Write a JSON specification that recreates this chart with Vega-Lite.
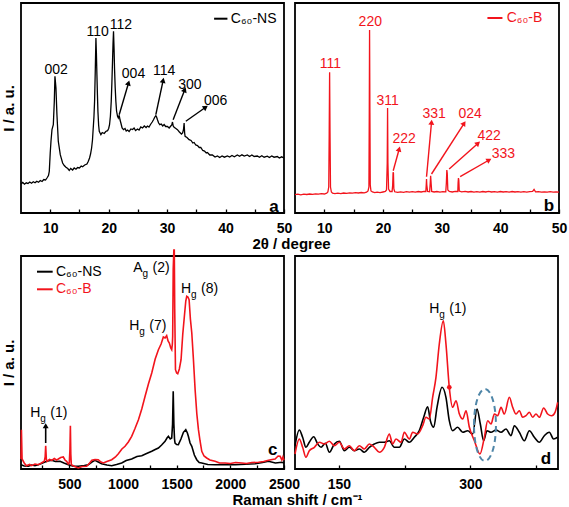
{
  "$schema": "https://vega.github.io/schema/vega-lite/v6.json",
  "background": "white",
  "padding": {"left": 0, "top": 2, "right": 0, "bottom": 0},
  "config": {
    "font": "Liberation Sans",
    "view": {"stroke": "black", "strokeWidth": 1.8},
    "axis": {"grid": false, "domain": false, "labelFont": "Liberation Sans", "labelFontSize": 14, "labelFontWeight": "bold", "labelColor": "black", "titleFont": "Liberation Sans", "titleFontSize": 15, "titleFontWeight": "bold", "titleColor": "black", "tickColor": "black", "tickWidth": 1.3},
    "axisX": {"tickSize": -4, "labelPadding": 12, "labelFlush": false, "labelOverlap": false}
  },
  "datasets": {
    "xa": [
      {"x":5.0,"y":29},{"x":5.3,"y":30.5},{"x":5.6,"y":28.8},{"x":5.9,"y":30.2},{"x":6.2,"y":29.5},{"x":6.5,"y":31},{"x":6.8,"y":29.8},{"x":7.1,"y":31.2},{"x":7.4,"y":30.2},{"x":7.7,"y":31.8},{"x":8.0,"y":30.8},{"x":8.3,"y":32.5},{"x":8.6,"y":31.5},{"x":8.9,"y":33.5},{"x":9.2,"y":33},{"x":9.5,"y":35.5},{"x":9.7,"y":37.5},{"x":9.84,"y":41.7},{"x":10.0,"y":60},{"x":10.13,"y":71.7},{"x":10.3,"y":83.3},{"x":10.53,"y":88.3},{"x":10.7,"y":111.7},{"x":10.81,"y":136.7},{"x":10.98,"y":125},{"x":11.15,"y":98.3},{"x":11.38,"y":71.7},{"x":11.72,"y":58.3},{"x":12.12,"y":50},{"x":12.4,"y":47.5},{"x":12.69,"y":45.7},{"x":13.0,"y":44.5},{"x":13.26,"y":42.5},{"x":13.5,"y":44.5},{"x":13.83,"y":43},{"x":14.1,"y":45},{"x":14.4,"y":43.8},{"x":14.68,"y":45.5},{"x":15.0,"y":45},{"x":15.3,"y":47},{"x":15.54,"y":46.2},{"x":15.9,"y":48},{"x":16.28,"y":49},{"x":16.5,"y":51.5},{"x":16.73,"y":55},{"x":16.9,"y":59},{"x":17.08,"y":65},{"x":17.23,"y":73},{"x":17.36,"y":85},{"x":17.48,"y":96},{"x":17.59,"y":111.7},{"x":17.7,"y":140},{"x":17.82,"y":175},{"x":17.9,"y":160},{"x":17.99,"y":138.3},{"x":18.08,"y":118},{"x":18.16,"y":101.7},{"x":18.28,"y":88},{"x":18.39,"y":81.7},{"x":18.67,"y":78.3},{"x":18.9,"y":80.5},{"x":19.24,"y":79.5},{"x":19.5,"y":81.5},{"x":19.81,"y":82.3},{"x":20.0,"y":84.5},{"x":20.15,"y":88.3},{"x":20.3,"y":97},{"x":20.44,"y":111.7},{"x":20.55,"y":130},{"x":20.66,"y":151.7},{"x":20.75,"y":170},{"x":20.83,"y":181.7},{"x":20.92,"y":165},{"x":21.0,"y":145},{"x":21.12,"y":125},{"x":21.23,"y":111.7},{"x":21.35,"y":102},{"x":21.52,"y":96.7},{"x":21.65,"y":95},{"x":21.8,"y":97.7},{"x":21.95,"y":93},{"x":22.09,"y":90},{"x":22.3,"y":85},{"x":22.54,"y":83.3},{"x":22.8,"y":84.5},{"x":23.0,"y":82},{"x":23.23,"y":83},{"x":23.5,"y":81.5},{"x":23.8,"y":84},{"x":24.08,"y":83.5},{"x":24.35,"y":85},{"x":24.6,"y":82.5},{"x":24.94,"y":84},{"x":25.2,"y":83},{"x":25.5,"y":86},{"x":25.79,"y":85},{"x":26.1,"y":87},{"x":26.4,"y":85.5},{"x":26.64,"y":87},{"x":26.9,"y":86},{"x":27.21,"y":89},{"x":27.45,"y":91},{"x":27.67,"y":93.3},{"x":27.9,"y":96},{"x":28.07,"y":97.3},{"x":28.2,"y":96},{"x":28.35,"y":93.3},{"x":28.55,"y":90},{"x":28.75,"y":88.3},{"x":29.0,"y":89},{"x":29.25,"y":87},{"x":29.49,"y":88.5},{"x":29.75,"y":86.5},{"x":30.06,"y":86.5},{"x":30.35,"y":85},{"x":30.63,"y":87},{"x":30.8,"y":88},{"x":30.92,"y":91},{"x":31.05,"y":87},{"x":31.2,"y":85.7},{"x":31.5,"y":84.5},{"x":31.77,"y":83.3},{"x":32.1,"y":81},{"x":32.46,"y":79},{"x":32.65,"y":80},{"x":32.8,"y":83.3},{"x":32.91,"y":90},{"x":33.0,"y":80},{"x":33.08,"y":76.7},{"x":33.4,"y":75.5},{"x":33.76,"y":73.3},{"x":34.1,"y":72.5},{"x":34.4,"y":70},{"x":34.62,"y":70.5},{"x":34.9,"y":68},{"x":35.2,"y":67.5},{"x":35.5,"y":65.5},{"x":35.76,"y":65.5},{"x":36.1,"y":62.5},{"x":36.4,"y":62},{"x":36.7,"y":60},{"x":36.9,"y":60.5},{"x":37.3,"y":58},{"x":37.75,"y":58},{"x":38.2,"y":56},{"x":38.61,"y":57},{"x":39.0,"y":55.5},{"x":39.4,"y":57},{"x":39.8,"y":55.8},{"x":40.32,"y":57},{"x":40.7,"y":56},{"x":41.1,"y":57.5},{"x":41.5,"y":56.2},{"x":42.02,"y":58},{"x":42.4,"y":56.8},{"x":42.8,"y":58.2},{"x":43.2,"y":57},{"x":43.73,"y":58},{"x":44.1,"y":56.5},{"x":44.5,"y":58},{"x":44.9,"y":56.5},{"x":45.44,"y":57},{"x":45.8,"y":55.8},{"x":46.2,"y":57.2},{"x":46.6,"y":55.8},{"x":47.15,"y":56.8},{"x":47.5,"y":55.5},{"x":47.9,"y":57},{"x":48.3,"y":55.8},{"x":48.86,"y":56.5},{"x":49.2,"y":55},{"x":49.6,"y":56.2},{"x":50.0,"y":55}
    ],
    "xb": [
      {"x":5.0,"y":18.3},{"x":5.5,"y":18.8},{"x":6.0,"y":18.2},{"x":6.5,"y":18.9},{"x":7.0,"y":18.5},{"x":7.5,"y":19},{"x":8.0,"y":18.6},{"x":8.5,"y":19.2},{"x":9.0,"y":18.8},{"x":9.5,"y":19.3},{"x":10.0,"y":19.0},{"x":10.4,"y":19.8},{"x":10.6,"y":21},{"x":10.75,"y":26},{"x":10.83,"y":80},{"x":10.9,"y":140.7},{"x":10.97,"y":80},{"x":11.05,"y":26},{"x":11.2,"y":21},{"x":11.4,"y":19.8},{"x":11.8,"y":19.4},{"x":12.3,"y":19.8},{"x":12.8,"y":19.4},{"x":13.3,"y":20},{"x":13.8,"y":19.6},{"x":14.3,"y":20.2},{"x":14.8,"y":19.8},{"x":15.3,"y":20.3},{"x":15.8,"y":20},{"x":16.3,"y":20.5},{"x":16.8,"y":20.2},{"x":17.2,"y":20.8},{"x":17.45,"y":22},{"x":17.6,"y":26},{"x":17.66,"y":100},{"x":17.71,"y":183},{"x":17.77,"y":100},{"x":17.83,"y":28},{"x":17.95,"y":22},{"x":18.2,"y":21},{"x":18.6,"y":20.4},{"x":19.0,"y":20.8},{"x":19.5,"y":20.4},{"x":20.0,"y":21},{"x":20.4,"y":21.5},{"x":20.6,"y":23},{"x":20.72,"y":50},{"x":20.78,"y":105},{"x":20.84,"y":50},{"x":20.95,"y":24},{"x":21.2,"y":21.5},{"x":21.55,"y":21.5},{"x":21.65,"y":28},{"x":21.72,"y":40.7},{"x":21.78,"y":40},{"x":21.85,"y":24},{"x":22.0,"y":21.2},{"x":22.5,"y":20.6},{"x":23.0,"y":21.2},{"x":23.5,"y":20.7},{"x":24.0,"y":21.3},{"x":24.5,"y":20.8},{"x":25.0,"y":21.4},{"x":25.5,"y":20.9},{"x":26.0,"y":21.5},{"x":26.5,"y":21},{"x":27.0,"y":21.6},{"x":27.3,"y":21.5},{"x":27.37,"y":28},{"x":27.42,"y":34},{"x":27.47,"y":28},{"x":27.6,"y":21.5},{"x":27.95,"y":21.2},{"x":28.05,"y":30},{"x":28.12,"y":37.3},{"x":28.2,"y":30},{"x":28.3,"y":21.6},{"x":28.7,"y":21},{"x":29.2,"y":21.5},{"x":29.7,"y":20.9},{"x":30.2,"y":21.4},{"x":30.7,"y":21.2},{"x":30.8,"y":30},{"x":30.88,"y":43},{"x":30.95,"y":40},{"x":31.05,"y":23},{"x":31.3,"y":21.5},{"x":31.8,"y":21},{"x":32.3,"y":21.6},{"x":32.75,"y":21.5},{"x":32.8,"y":30},{"x":32.86,"y":35},{"x":32.92,"y":33},{"x":33.0,"y":22},{"x":33.4,"y":21.2},{"x":34.0,"y":21.7},{"x":34.5,"y":21},{"x":35.0,"y":21.5},{"x":35.5,"y":20.8},{"x":36.0,"y":21.4},{"x":36.5,"y":20.9},{"x":37.0,"y":21.5},{"x":37.5,"y":21},{"x":38.0,"y":21.6},{"x":38.5,"y":21},{"x":39.0,"y":21.4},{"x":39.5,"y":20.9},{"x":40.0,"y":21.5},{"x":40.5,"y":21},{"x":41.0,"y":21.4},{"x":41.5,"y":20.9},{"x":42.0,"y":21.5},{"x":42.5,"y":21},{"x":43.0,"y":21.4},{"x":43.5,"y":20.8},{"x":44.0,"y":21.3},{"x":44.5,"y":20.9},{"x":45.0,"y":21.3},{"x":45.5,"y":21.6},{"x":45.75,"y":23.5},{"x":46.0,"y":21.2},{"x":46.5,"y":21.3},{"x":47.0,"y":20.8},{"x":47.5,"y":21.2},{"x":48.0,"y":20.8},{"x":48.5,"y":21.3},{"x":49.0,"y":20.9},{"x":49.5,"y":21.2},{"x":50.0,"y":20.8}
    ],
    "ta": [
      {"x":11.0,"y":143,"t":"002"},{"x":18.1,"y":181,"t":"110"},{"x":22.1,"y":188,"t":"112"},{"x":24.25,"y":139,"t":"004"},{"x":29.5,"y":141.7,"t":"114"},{"x":33.9,"y":128.3,"t":"300"},{"x":38.3,"y":112.3,"t":"006"}
    ],
    "tb": [
      {"x":11.02,"y":149,"t":"111"},{"x":17.83,"y":190.7,"t":"220"},{"x":20.78,"y":112.3,"t":"311"},{"x":23.61,"y":74,"t":"222"},{"x":28.72,"y":99,"t":"331"},{"x":34.85,"y":99,"t":"024"},{"x":38.09,"y":77.3,"t":"422"},{"x":40.53,"y":59,"t":"333"}
    ],
    "aa": [
      {"x":23.4,"y":130,"x2":21.8,"y2":98.3,"ang":16.4},
      {"x":29.32,"y":132.7,"x2":28.07,"y2":98.3,"ang":12},
      {"x":33.02,"y":123.3,"x2":31.03,"y2":93.3,"ang":21},
      {"x":36.6,"y":105.7,"x2":33.2,"y2":91.7,"ang":55}
    ],
    "ab": [
      {"x":22.76,"y":64,"x2":21.74,"y2":42.3,"ang":15.5},
      {"x":28.27,"y":90.7,"x2":27.42,"y2":36.3,"ang":5.3},
      {"x":33.83,"y":89.7,"x2":28.27,"y2":39,"ang":32.8},
      {"x":36.21,"y":69.7,"x2":31.28,"y2":44,"ang":48.5},
      {"x":38.09,"y":53,"x2":33.15,"y2":36.3,"ang":60}
    ],
    "lga": [{"x":38.04,"x2":40.32,"y":194.3,"tx":40.9,"t":"C₆₀-NS"}],
    "lgb": [{"x":37.8,"x2":40.36,"y":195,"tx":41.09,"t":"C₆₀-B"}],
    "pa": [{"x":48.3,"y":6,"t":"a"}],
    "pb": [{"x":48.3,"y":7.3,"t":"b"}],
    "cns": [
      {"x":50,"y":4.3},{"x":80,"y":3},{"x":118,"y":2.7},{"x":150,"y":4},{"x":180,"y":3.3},{"x":211,"y":4.3},{"x":240,"y":5.5},{"x":273,"y":7},{"x":300,"y":8},{"x":336,"y":8.7},{"x":370,"y":7.5},{"x":413,"y":7.7},{"x":450,"y":6},{"x":491,"y":4.3},{"x":530,"y":3},{"x":584,"y":2.7},{"x":640,"y":3.5},{"x":677,"y":4.3},{"x":710,"y":7},{"x":739,"y":8.7},{"x":770,"y":7},{"x":801,"y":5.3},{"x":850,"y":4},{"x":895,"y":3.3},{"x":940,"y":4.5},{"x":988,"y":6},{"x":1030,"y":8.5},{"x":1081,"y":10},{"x":1130,"y":12.5},{"x":1175,"y":13.3},{"x":1220,"y":15.5},{"x":1268,"y":17.7},{"x":1300,"y":19.5},{"x":1330,"y":21},{"x":1360,"y":24},{"x":1392,"y":27.7},{"x":1410,"y":31},{"x":1423,"y":32.7},{"x":1440,"y":30},{"x":1454,"y":31},{"x":1462,"y":45},{"x":1468,"y":77.7},{"x":1474,"y":45},{"x":1480,"y":30},{"x":1485,"y":26},{"x":1500,"y":24.5},{"x":1516,"y":24.3},{"x":1540,"y":30},{"x":1563,"y":36.7},{"x":1585,"y":39.3},{"x":1600,"y":36},{"x":1609,"y":32.7},{"x":1625,"y":26},{"x":1641,"y":22.7},{"x":1665,"y":14},{"x":1687,"y":9.3},{"x":1710,"y":6.5},{"x":1734,"y":6},{"x":1790,"y":4.5},{"x":1858,"y":4.3},{"x":1950,"y":4.5},{"x":2045,"y":4.3},{"x":2140,"y":4.8},{"x":2231,"y":5.3},{"x":2300,"y":6.5},{"x":2355,"y":7.7},{"x":2420,"y":6},{"x":2479,"y":6.7},{"x":2500,"y":6}
    ],
    "cb": [
      {"x":50,"y":10},{"x":54,"y":39.3},{"x":60,"y":10},{"x":80,"y":6},{"x":100,"y":3.3},{"x":130,"y":4.5},{"x":149,"y":3.3},{"x":180,"y":5},{"x":211,"y":4.3},{"x":240,"y":6},{"x":267,"y":7.7},{"x":275,"y":12},{"x":280,"y":23.3},{"x":286,"y":10},{"x":292,"y":7.7},{"x":315,"y":9.5},{"x":336,"y":8.7},{"x":360,"y":10.5},{"x":380,"y":9},{"x":398,"y":10},{"x":420,"y":11.5},{"x":444,"y":12},{"x":460,"y":9},{"x":475,"y":7.7},{"x":490,"y":5},{"x":500,"y":6},{"x":506,"y":20},{"x":510,"y":43.3},{"x":514,"y":15},{"x":519,"y":4.3},{"x":550,"y":2.5},{"x":584,"y":1},{"x":620,"y":2.5},{"x":662,"y":2.7},{"x":690,"y":6},{"x":710,"y":8.7},{"x":740,"y":9.5},{"x":770,"y":9.3},{"x":795,"y":7},{"x":817,"y":6},{"x":850,"y":7.5},{"x":895,"y":9.3},{"x":930,"y":12},{"x":957,"y":15.3},{"x":990,"y":20},{"x":1019,"y":22.7},{"x":1050,"y":27},{"x":1081,"y":32.7},{"x":1110,"y":40},{"x":1144,"y":49.3},{"x":1175,"y":60},{"x":1206,"y":72.7},{"x":1237,"y":85},{"x":1268,"y":96},{"x":1300,"y":110},{"x":1330,"y":119.3},{"x":1355,"y":125},{"x":1376,"y":132},{"x":1392,"y":131},{"x":1407,"y":133.3},{"x":1420,"y":128},{"x":1432,"y":126},{"x":1445,"y":121},{"x":1454,"y":119.3},{"x":1460,"y":125},{"x":1463,"y":132.7},{"x":1468,"y":200},{"x":1474,"y":219},{"x":1478,"y":219},{"x":1482,"y":160},{"x":1489,"y":99.3},{"x":1500,"y":96},{"x":1510,"y":95.3},{"x":1525,"y":100},{"x":1541,"y":109.3},{"x":1557,"y":135},{"x":1572,"y":152.7},{"x":1585,"y":168},{"x":1594,"y":172.7},{"x":1605,"y":172},{"x":1616,"y":169.3},{"x":1628,"y":150},{"x":1641,"y":136},{"x":1656,"y":110},{"x":1672,"y":79.3},{"x":1688,"y":55},{"x":1703,"y":39.3},{"x":1718,"y":28},{"x":1734,"y":17.7},{"x":1755,"y":13},{"x":1780,"y":11},{"x":1810,"y":9},{"x":1858,"y":7.7},{"x":1900,"y":6},{"x":1951,"y":6},{"x":2000,"y":5.5},{"x":2050,"y":6.5},{"x":2107,"y":6},{"x":2150,"y":5.5},{"x":2200,"y":6.5},{"x":2262,"y":6.7},{"x":2310,"y":7.5},{"x":2355,"y":8.7},{"x":2390,"y":9.5},{"x":2417,"y":10},{"x":2445,"y":13},{"x":2464,"y":12.7},{"x":2480,"y":9},{"x":2490,"y":12},{"x":2500,"y":8.7}
    ],
    "tc": [
      {"x":1183,"y":201,"m":"A","s":"g","r":"(2)"},
      {"x":1634,"y":180,"m":"H","s":"g","r":"(8)"},
      {"x":1152,"y":143,"m":"H","s":"g","r":"(7)"},
      {"x":230,"y":56,"m":"H","s":"g","r":"(1)"}
    ],
    "ac": [{"x":280,"y":43.3,"x2":280,"y2":26,"ang":0}],
    "lgc": [
      {"x":199,"x2":345,"y":197.3,"tx":376,"t":"C₆₀-NS","c":"ns"},
      {"x":199,"x2":345,"y":179.7,"tx":376,"t":"C₆₀-B","c":"b"}
    ],
    "pc": [{"x":2394,"y":19.3,"t":"c"}],
    "dns": [
      {"x":100,"y":23.3},{"x":104.9,"y":39},{"x":108.7,"y":31.7},{"x":112.5,"y":21.7},{"x":116.3,"y":26.7},{"x":121.3,"y":32.3},{"x":125.9,"y":25},{"x":129.7,"y":21.7},{"x":134.6,"y":25.7},{"x":139.2,"y":16.7},{"x":144.9,"y":25},{"x":150.6,"y":27.7},{"x":156.3,"y":18.3},{"x":162,"y":21.7},{"x":167.7,"y":18.3},{"x":173.4,"y":20},{"x":179.1,"y":16.7},{"x":184.8,"y":21.7},{"x":190.5,"y":25},{"x":196.2,"y":26.7},{"x":201.9,"y":26.7},{"x":207.6,"y":28.3},{"x":213.3,"y":21.7},{"x":219,"y":21.7},{"x":224.7,"y":30},{"x":230.4,"y":26.7},{"x":236.1,"y":31.7},{"x":241.8,"y":38.3},{"x":246.8,"y":51.7},{"x":251.3,"y":62.3},{"x":254.4,"y":48.3},{"x":258.2,"y":41.7},{"x":262,"y":61.7},{"x":267.7,"y":81.7},{"x":272.2,"y":71.7},{"x":276,"y":48.3},{"x":279.8,"y":38.3},{"x":285.5,"y":41.7},{"x":291.3,"y":36.7},{"x":297,"y":38.3},{"x":302.7,"y":35},{"x":307.6,"y":60},{"x":311.4,"y":45},{"x":315.2,"y":28.3},{"x":319,"y":38.3},{"x":323.6,"y":36.7},{"x":329.3,"y":39},{"x":335,"y":36.7},{"x":340.7,"y":40},{"x":346.4,"y":33.3},{"x":350.2,"y":43.3},{"x":355.9,"y":36.7},{"x":361.6,"y":28.3},{"x":367.3,"y":38.3},{"x":373,"y":31.7},{"x":378.7,"y":26.7},{"x":384.4,"y":33.3},{"x":390.1,"y":36.7},{"x":395,"y":30},{"x":399.6,"y":31.7}
    ],
    "db": [
      {"x":100,"y":15},{"x":104.9,"y":30},{"x":108.7,"y":21.7},{"x":112.5,"y":11.7},{"x":116.3,"y":18.3},{"x":122.1,"y":21.7},{"x":127.8,"y":26.7},{"x":133.5,"y":25},{"x":139.2,"y":27.7},{"x":144.9,"y":23.3},{"x":150.6,"y":26.7},{"x":156.3,"y":20},{"x":162,"y":23.3},{"x":167.7,"y":18.3},{"x":173.4,"y":23.3},{"x":179.1,"y":20},{"x":184.8,"y":25},{"x":190.5,"y":21.7},{"x":196.2,"y":16.7},{"x":201.9,"y":21.7},{"x":207.6,"y":35},{"x":211.4,"y":25},{"x":215.2,"y":30},{"x":220.9,"y":26.7},{"x":224.7,"y":36.7},{"x":230.4,"y":30},{"x":234.2,"y":36.7},{"x":239.9,"y":35},{"x":245.6,"y":43.3},{"x":249.4,"y":51.7},{"x":253.2,"y":50},{"x":257,"y":71.7},{"x":260.8,"y":91.7},{"x":264.6,"y":125},{"x":269.2,"y":148.3},{"x":272.2,"y":125},{"x":276,"y":81.7},{"x":279.8,"y":61.7},{"x":283.7,"y":68.3},{"x":287.5,"y":55},{"x":291.3,"y":50},{"x":295.1,"y":58.3},{"x":298.9,"y":41.7},{"x":304.6,"y":28.3},{"x":311,"y":15},{"x":316,"y":31.7},{"x":319.8,"y":48.3},{"x":323.6,"y":45},{"x":327.4,"y":55},{"x":331.2,"y":53.3},{"x":335,"y":61.7},{"x":338.8,"y":55},{"x":344.5,"y":71.7},{"x":348.3,"y":61.7},{"x":352.1,"y":55},{"x":355.9,"y":58.3},{"x":359.7,"y":51.7},{"x":363.5,"y":53.3},{"x":367.3,"y":56.7},{"x":371.1,"y":51.7},{"x":374.9,"y":55},{"x":378.7,"y":51.7},{"x":383.7,"y":61},{"x":388.2,"y":55},{"x":392.8,"y":53.3},{"x":396.6,"y":56.7},{"x":399.6,"y":66.7}
    ],
    "td": [{"x":264.6,"y":160,"m":"H","s":"g","r":"(1)"}],
    "dot": [{"x":276,"y":81.7}],
    "ell": [{"x":316.7,"y":44}],
    "pd": [{"x":386.3,"y":10,"t":"d"}]
  },
  "columns": 2,
  "spacing": {"row": 43, "column": 11},
  "bounds": "flush",
  "concat": [
        {
          "width": 263, "height": 210,
          "encoding": {
            "x": {"field": "x", "type": "quantitative", "scale": {"domain": [5, 50], "nice": false, "zero": false},
                  "axis": {"values": [10,15,20,25,30,35,40,45,50], "labelExpr": "datum.value % 10 === 0 ? datum.label : ''", "title": "2θ / degree", "titleX": 270, "titleY": 30, "titleBaseline": "middle", "titleAlign": "center"}},
            "y": {"field": "y", "type": "quantitative", "scale": {"domain": [0, 210], "nice": false, "zero": false},
                  "axis": {"title": "I / a. u.", "labels": false, "ticks": false, "titlePadding": 5}}
          },
          "layer": [
            {"data": {"name": "xa"}, "mark": {"type": "line", "color": "black", "strokeWidth": 1.3}},
            {"data": {"name": "ta"}, "mark": {"type": "text", "fontSize": 14, "color": "black"}, "encoding": {"text": {"field": "t"}}},
            {"data": {"name": "aa"}, "mark": {"type": "rule", "color": "black", "strokeWidth": 1.4}, "encoding": {"x2": {"field": "x2"}, "y2": {"field": "y2"}}},
            {"data": {"name": "aa"}, "mark": {"type": "point", "shape": "triangle-up", "filled": true, "color": "black", "size": 35, "opacity": 1}, "encoding": {"angle": {"field": "ang", "type": "quantitative", "scale": null}}},
            {"data": {"name": "lga"}, "mark": {"type": "rule", "color": "black", "strokeWidth": 2}, "encoding": {"x2": {"field": "x2"}}},
            {"data": {"name": "lga"}, "mark": {"type": "text", "fontSize": 14, "color": "black", "align": "left"}, "encoding": {"x": {"field": "tx", "type": "quantitative"}, "text": {"field": "t"}}},
            {"data": {"name": "pa"}, "mark": {"type": "text", "fontSize": 17, "fontWeight": "bold", "color": "black"}, "encoding": {"text": {"field": "t"}}}
          ]
        },
        {
          "width": 264, "height": 210,
          "encoding": {
            "x": {"field": "x", "type": "quantitative", "scale": {"domain": [5, 50], "nice": false, "zero": false},
                  "axis": {"values": [10,15,20,25,30,35,40,45,50], "labelExpr": "datum.value % 10 === 0 ? datum.label : ''", "title": null}},
            "y": {"field": "y", "type": "quantitative", "scale": {"domain": [0, 210], "nice": false, "zero": false}, "axis": null}
          },
          "layer": [
            {"data": {"name": "xb"}, "mark": {"type": "line", "color": "#f2141c", "strokeWidth": 1.3}},
            {"data": {"name": "tb"}, "mark": {"type": "text", "fontSize": 14, "color": "#f2141c"}, "encoding": {"text": {"field": "t"}}},
            {"data": {"name": "ab"}, "mark": {"type": "rule", "color": "#f2141c", "strokeWidth": 1.4}, "encoding": {"x2": {"field": "x2"}, "y2": {"field": "y2"}}},
            {"data": {"name": "ab"}, "mark": {"type": "point", "shape": "triangle-up", "filled": true, "color": "#f2141c", "size": 35, "opacity": 1}, "encoding": {"angle": {"field": "ang", "type": "quantitative", "scale": null}}},
            {"data": {"name": "lgb"}, "mark": {"type": "rule", "color": "#f2141c", "strokeWidth": 2}, "encoding": {"x2": {"field": "x2"}}},
            {"data": {"name": "lgb"}, "mark": {"type": "text", "fontSize": 14, "color": "#f2141c", "align": "left"}, "encoding": {"x": {"field": "tx", "type": "quantitative"}, "text": {"field": "t"}}},
            {"data": {"name": "pb"}, "mark": {"type": "text", "fontSize": 17, "fontWeight": "bold", "color": "black"}, "encoding": {"text": {"field": "t"}}}
          ]
        },
        {
          "width": 263, "height": 213,
          "encoding": {
            "x": {"field": "x", "type": "quantitative", "scale": {"domain": [50, 2500], "nice": false, "zero": false},
                  "axis": {"values": [250,500,750,1000,1250,1500,1750,2000,2250,2500], "format": "d", "labelExpr": "datum.value % 500 === 0 ? datum.label : ''", "title": "Raman shift / cm⁻¹", "titleX": 276, "titleY": 30, "titleBaseline": "middle", "titleAlign": "center"}},
            "y": {"field": "y", "type": "quantitative", "scale": {"domain": [0, 213], "nice": false, "zero": false},
                  "axis": {"title": "I / a. u.", "labels": false, "ticks": false, "titlePadding": 5}}
          },
          "layer": [
            {"data": {"name": "cns"}, "mark": {"type": "line", "color": "black", "strokeWidth": 1.6}},
            {"data": {"name": "cb"}, "mark": {"type": "line", "color": "#f2141c", "strokeWidth": 1.6}},
            {"data": {"name": "tc"}, "mark": {"type": "text", "fontSize": 14, "color": "black", "align": "right"}, "encoding": {"text": {"field": "m"}}},
            {"data": {"name": "tc"}, "mark": {"type": "text", "fontSize": 10, "color": "black", "align": "left", "dy": 6}, "encoding": {"text": {"field": "s"}}},
            {"data": {"name": "tc"}, "mark": {"type": "text", "fontSize": 14, "color": "black", "align": "left", "dx": 10}, "encoding": {"text": {"field": "r"}}},
            {"data": {"name": "ac"}, "mark": {"type": "rule", "color": "black", "strokeWidth": 1.6}, "encoding": {"x2": {"field": "x2"}, "y2": {"field": "y2"}}},
            {"data": {"name": "ac"}, "mark": {"type": "point", "shape": "triangle-up", "filled": true, "color": "black", "size": 35, "opacity": 1}, "encoding": {"angle": {"field": "ang", "type": "quantitative", "scale": null}}},
            {"data": {"name": "lgc"}, "mark": {"type": "rule", "strokeWidth": 2}, "encoding": {"x2": {"field": "x2"}, "color": {"field": "c", "type": "nominal", "scale": {"domain": ["ns", "b"], "range": ["black", "#f2141c"]}, "legend": null}}},
            {"data": {"name": "lgc"}, "mark": {"type": "text", "fontSize": 14, "align": "left"}, "encoding": {"x": {"field": "tx", "type": "quantitative"}, "text": {"field": "t"}, "color": {"field": "c", "type": "nominal", "scale": {"domain": ["ns", "b"], "range": ["black", "#f2141c"]}, "legend": null}}},
            {"data": {"name": "pc"}, "mark": {"type": "text", "fontSize": 17, "fontWeight": "bold", "color": "black"}, "encoding": {"text": {"field": "t"}}}
          ]
        },
        {
          "width": 263, "height": 213,
          "encoding": {
            "x": {"field": "x", "type": "quantitative", "scale": {"domain": [100, 400], "nice": false, "zero": false},
                  "axis": {"values": [150,225,300,375], "labelExpr": "datum.value % 150 === 0 ? datum.label : ''", "title": null}},
            "y": {"field": "y", "type": "quantitative", "scale": {"domain": [0, 213], "nice": false, "zero": false}, "axis": null}
          },
          "layer": [
            {"data": {"name": "dns"}, "mark": {"type": "line", "color": "black", "strokeWidth": 1.6, "interpolate": "monotone"}},
            {"data": {"name": "db"}, "mark": {"type": "line", "color": "#f2141c", "strokeWidth": 1.6, "interpolate": "monotone"}},
            {"data": {"name": "dot"}, "mark": {"type": "point", "filled": true, "color": "#f2141c", "size": 22, "opacity": 1}},
            {"data": {"name": "ell"}, "mark": {"type": "point", "shape": "M -0.305,0 A 0.305,1 0 1,1 0.305,0 A 0.305,1 0 1,1 -0.305,0 Z", "filled": false, "stroke": "#4f86a8", "strokeWidth": 2, "strokeDash": [6, 4], "size": 5184, "opacity": 1}},
            {"data": {"name": "td"}, "mark": {"type": "text", "fontSize": 14, "color": "black", "align": "right"}, "encoding": {"text": {"field": "m"}}},
            {"data": {"name": "td"}, "mark": {"type": "text", "fontSize": 10, "color": "black", "align": "left", "dy": 6}, "encoding": {"text": {"field": "s"}}},
            {"data": {"name": "td"}, "mark": {"type": "text", "fontSize": 14, "color": "black", "align": "left", "dx": 10}, "encoding": {"text": {"field": "r"}}},
            {"data": {"name": "pd"}, "mark": {"type": "text", "fontSize": 17, "fontWeight": "bold", "color": "black"}, "encoding": {"text": {"field": "t"}}}
          ]
        }
  ]
}
